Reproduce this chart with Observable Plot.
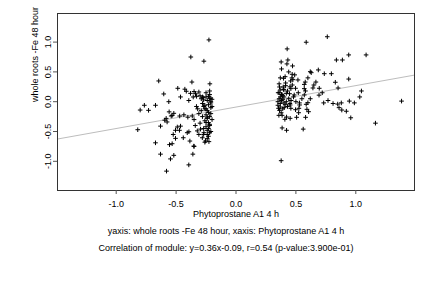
<!DOCTYPE html>
<html>
<head>
<meta charset="utf-8">
<script src="https://cdn.jsdelivr.net/npm/d3@7"></script>
<script src="https://cdn.jsdelivr.net/npm/@observablehq/plot@0.6"></script>
<style>
  html, body { margin: 0; padding: 0; background: #fff; }
  #chart svg { display: block; }
</style>
</head>
<body>
<div id="chart"></div>
<script>
// Scatter points [x, y] (Phytoprostane A1 4 h vs whole roots -Fe 48 hour)
const pointsLow = [
  [-0.226,1.037],[-0.377,0.75],[-0.268,0.68],[-0.645,0.348],[-0.368,0.33],[-0.218,0.30],
  [-0.603,0.13],[-0.486,0.225],[-0.427,0.21],[-0.415,0.175],[-0.463,0.08],[-0.561,0.0],
  [-0.672,-0.06],[-0.765,-0.06],[-0.80,-0.14],[-0.73,-0.145],[-0.558,-0.17],[-0.519,-0.195],
  [-0.541,-0.24],[-0.583,-0.28],[-0.595,-0.31],[-0.63,-0.41],[-0.82,-0.47],[-0.47,-0.24],
  [-0.672,-0.69],[-0.555,-0.72],[-0.63,-0.88],[-0.519,-0.90],[-0.547,-0.96],[-0.36,-0.88],
  [-0.394,-1.06],[-0.58,-1.165],[-0.35,-0.75],[-0.575,-0.34],[-0.533,-0.23],[-0.435,-0.22],
  [-0.402,-0.26],[-0.365,-0.24],[-0.49,-0.425],[-0.463,-0.41],[-0.472,-0.48],[-0.505,-0.48],
  [-0.524,-0.55],[-0.505,-0.615],[-0.533,-0.705],[-0.44,-0.605],[-0.393,-0.504],[-0.407,-0.52],
  [-0.385,-0.66],[-0.352,-0.745],[-0.254,-0.66],[-0.226,-0.67],[-0.24,-0.55],[-0.268,-0.52],
  [-0.296,-0.46],[-0.31,-0.55],[-0.281,-0.605],[-0.323,-0.49],[-0.338,0.134],[-0.31,0.163],
  [-0.357,0.079],[-0.329,0.09],[-0.394,0.02],[-0.273,0.067],[-0.38,0.14],[-0.35,0.17],
  [-0.22,0.05],[-0.24,0.02],[-0.21,-0.02],[-0.25,0.08],[-0.23,-0.05],[-0.27,0.03],
  [-0.20,-0.08],[-0.22,0.12],[-0.26,-0.12],[-0.24,-0.15],[-0.21,0.06],[-0.23,-0.18],
  [-0.28,-0.03],[-0.25,-0.22],[-0.22,-0.25],[-0.30,0.10],[-0.24,-0.28],[-0.21,-0.10],
  [-0.26,-0.32],[-0.23,-0.35],[-0.29,-0.15],[-0.22,-0.38],[-0.25,-0.42],[-0.20,-0.30],
  [-0.27,-0.45],[-0.24,-0.48],[-0.31,-0.20],[-0.22,-0.52],[-0.26,-0.06],[-0.23,-0.58],
  [-0.33,-0.08],[-0.21,0.00],[-0.28,-0.25],[-0.25,0.15],[-0.22,-0.40],[-0.35,-0.30],
  [-0.24,-0.62],[-0.30,-0.36],[-0.27,-0.55],[-0.21,-0.20],[-0.32,-0.12],[-0.23,-0.45],
  [-0.26,-0.68],[-0.29,0.05],[-0.22,0.18],[-0.25,-0.12],[-0.34,-0.40],[-0.28,0.08],
  [-0.21,-0.50],[-0.24,-0.26],[-0.20,0.04],[-0.23,0.09],[-0.27,-0.08],[-0.25,-0.35]
];
const pointsHigh = [
  [0.762,1.09],[0.586,0.998],[0.427,0.886],[0.377,0.667],[0.433,0.70],[0.425,0.634],
  [0.472,0.60],[0.941,0.785],[1.086,0.785],[0.838,0.70],[0.888,0.70],[0.469,0.46],
  [0.467,0.40],[0.62,0.504],[0.628,0.487],[0.687,0.533],[0.737,0.47],[0.796,0.47],
  [0.941,0.38],[0.578,0.33],[0.57,0.29],[0.667,0.33],[0.829,0.326],[0.852,0.23],
  [1.047,0.18],[1.033,0.08],[0.693,0.11],[1.382,0.01],[0.732,-0.02],[0.768,0.02],
  [0.81,-0.03],[0.849,-0.04],[0.879,-0.02],[0.946,0.01],[0.988,-0.02],[0.86,-0.10],
  [0.883,-0.14],[0.921,-0.16],[0.958,-0.27],[1.164,-0.36],[0.385,-0.44],[0.422,-0.48],
  [0.561,-0.46],[0.377,-0.99],[0.363,0.247],[0.394,0.247],[0.369,0.197],[0.397,0.208],
  [0.414,0.269],[0.458,0.219],[0.497,0.225],[0.57,0.219],[0.642,0.23],[0.695,0.225],
  [0.352,0.151],[0.383,0.124],[0.447,0.134],[0.486,0.113],[0.57,0.113],[0.397,0.393],
  [0.414,0.314],[0.475,0.37],[0.517,0.365],[0.456,0.348],[0.586,-0.044],[0.60,-0.017],
  [0.531,-0.055],[0.525,-0.111],[0.497,-0.134],[0.458,-0.111],[0.452,-0.055],[0.402,-0.10],
  [0.369,-0.089],[0.355,-0.111],[0.363,-0.145],[0.377,-0.185],[0.385,-0.229],[0.408,-0.296],
  [0.452,-0.279],[0.506,-0.262],[0.581,-0.262],[0.422,-0.257],[0.358,-0.229],[0.592,-0.128],
  [0.606,-0.168],[0.523,-0.185],[0.36,0.05],[0.38,0.02],[0.40,0.08],[0.37,-0.03],
  [0.42,0.00],[0.39,0.10],[0.44,0.05],[0.36,0.15],[0.41,-0.05],[0.38,0.12],
  [0.43,0.18],[0.46,0.02],[0.37,0.08],[0.40,-0.02],[0.48,0.08],[0.35,-0.06],
  [0.39,0.04],[0.45,-0.03],[0.42,0.14],[0.50,0.00],[0.36,0.30],[0.41,0.42],
  [0.44,0.50],[0.38,0.55],[0.47,0.28],[0.52,0.15],[0.40,0.20],[0.43,-0.08],
  [0.37,0.40],[0.49,0.45],[0.55,0.05],[0.53,-0.02],[0.39,-0.12],[0.45,0.25],
  [0.35,0.00],[0.58,0.18],[0.62,0.05],[0.65,0.28],[0.60,0.40],[0.72,0.15]
];

// Regression line coefficients (from the caption)
const slope = 0.36;
const intercept = -0.09;

// Axes
const xDomain = [-1.49, 1.49];
const yDomain = [-1.49, 1.48];
const xTicks = [-1.0, -0.5, 0.0, 0.5, 1.0];
const yTicks = [-1.0, -0.5, 0.0, 0.5, 1.0];

const xLabel = "Phytoprostane A1 4 h";
const yLabel = "whole roots -Fe 48 hour";
const caption1 = "yaxis: whole roots -Fe 48 hour, xaxis: Phytoprostane A1 4 h";
const caption2 = "Correlation of module: y=0.36x-0.09, r=0.54 (p-value:3.900e-01)";

const points = pointsLow.concat(pointsHigh).map(([x, y]) => ({x, y}));
const fitLine = xDomain.map(x => ({x, y: slope * x + intercept}));
const fmt = d => d.toFixed(1);

const chart = Plot.plot({
  width: 432,
  height: 288,
  marginLeft: 57,
  marginRight: 18,
  marginTop: 13,
  marginBottom: 98,
  style: {fontFamily: "'Liberation Sans', Arial, Helvetica, sans-serif", fontSize: "9px", background: "#fff", color: "#000"},
  x: {domain: xDomain},
  y: {domain: yDomain},
  marks: [
    Plot.line(fitLine, {x: "x", y: "y", stroke: "#bdbdbd", strokeWidth: 1}),
    Plot.dot(points, {x: "x", y: "y", symbol: "plus", r: 1.6, stroke: "#000", strokeWidth: 1}),
    Plot.frame({stroke: "#333", strokeWidth: 1}),
    Plot.axisX({ticks: xTicks, tickFormat: fmt, tickSize: 4, tickPadding: 6, label: null, stroke: "#555"}),
    Plot.axisY({ticks: yTicks, tickFormat: fmt, tickSize: 4, tickPadding: 3, tickRotate: -90, label: null, stroke: "#555"}),
    Plot.text([xLabel], {text: d => d, frameAnchor: "bottom", dy: 26, fontSize: 9}),
    Plot.text([yLabel], {text: d => d, frameAnchor: "left", dx: -22, rotate: -90, fontSize: 9}),
    Plot.text([caption1], {text: d => d, frameAnchor: "bottom", dx: -10, dy: 43, fontSize: 9}),
    Plot.text([caption2], {text: d => d, frameAnchor: "bottom", dx: -10, dy: 60, fontSize: 9}),
  ]
});
document.getElementById("chart").appendChild(chart);
</script>
</body>
</html>
